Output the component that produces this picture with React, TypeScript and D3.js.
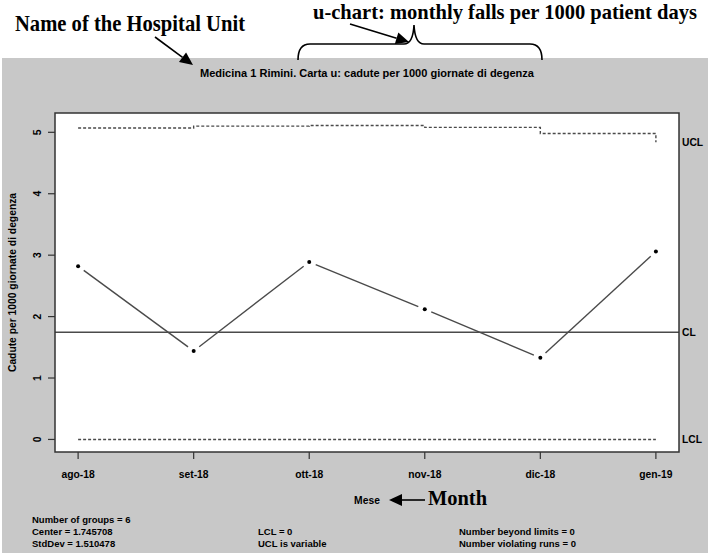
import React from "react";
import * as d3 from "d3";

const months = ["ago-18", "set-18", "ott-18", "nov-18", "dic-18", "gen-19"];
const rates = [2.82, 1.44, 2.89, 2.12, 1.33, 3.06];
const ucl = [5.07, 5.1, 5.11, 5.08, 4.98, 4.84];
const lcl = [0, 0, 0, 0, 0, 0];
const center = 1.745708;
const yTicks = [0, 1, 2, 3, 4, 5];
const statsLeft = ["Number of groups = 6", "Center = 1.745708", "StdDev = 1.510478"];
const statsMid = ["LCL = 0", "UCL is variable"];
const statsRight = ["Number beyond limits = 0", "Number violating runs = 0"];

const W = 708, H = 557;
const plot = { l: 55, r: 679, t: 113, b: 452 };
const SANS = "'Liberation Sans', Arial, sans-serif";
const SERIF = "'Liberation Serif', 'Times New Roman', serif";
const LINE = "#4a4a4a";

function Arrow({ x1, y1, x2, y2 }: { x1: number; y1: number; x2: number; y2: number }) {
  const a = Math.atan2(y2 - y1, x2 - x1);
  const L = 13, w = 6;
  const bx = x2 - L * Math.cos(a), by = y2 - L * Math.sin(a);
  const p1 = [bx + w * Math.sin(a), by - w * Math.cos(a)];
  const p2 = [bx - w * Math.sin(a), by + w * Math.cos(a)];
  return (
    <g>
      <line x1={x1} y1={y1} x2={bx} y2={by} stroke="#000" strokeWidth={1.6} />
      <polygon points={`${x2},${y2} ${p1[0]},${p1[1]} ${p2[0]},${p2[1]}`} fill="#000" />
    </g>
  );
}

export default function App() {
  const idx = months.map((_, i) => i + 1);
  const x = d3.scaleLinear().domain([0.8, 6.2]).range([plot.l, plot.r]);
  const allVals = [...rates, ...ucl, ...lcl];
  const ymin = d3.min(allVals)!, ymax = d3.max(allVals)!;
  const pad = (ymax - ymin) * 0.04;
  const y = d3.scaleLinear().domain([ymin - pad, ymax + pad]).range([plot.b, plot.t]);

  // step path that ends with vertical drop at last index (R type="s")
  const stepPath = (vals: number[]) => {
    let p = `M${x(idx[0])},${y(vals[0])}`;
    for (let i = 1; i < vals.length; i++) {
      p += `H${x(idx[i])}V${y(vals[i])}`;
    }
    return p;
  };

  const gap = 7;
  const segs = rates.slice(1).map((v, i) => {
    const x1 = x(idx[i]), y1 = y(rates[i]), x2 = x(idx[i + 1]), y2 = y(v);
    const len = Math.hypot(x2 - x1, y2 - y1);
    const ux = (x2 - x1) / len, uy = (y2 - y1) / len;
    return { x1: x1 + ux * gap, y1: y1 + uy * gap, x2: x2 - ux * gap, y2: y2 - uy * gap };
  });

  const fs = 10.3;
  return (
    <svg width={W} height={H} style={{ position: "absolute", left: 0, top: 0, background: "#fff" }}>
      <rect x={2} y={58} width={706} height={495} fill="#c8c8c8" />
      <rect x={plot.l} y={plot.t} width={plot.r - plot.l} height={plot.b - plot.t} fill="#fff" />

      {/* annotations */}
      <text x={15} y={31} fontFamily={SERIF} fontWeight="bold" fontSize={23} textLength={230} lengthAdjust="spacingAndGlyphs">Name of the Hospital Unit</text>
      <text x={313} y={19} fontFamily={SERIF} fontWeight="bold" fontSize={21} textLength={384} lengthAdjust="spacingAndGlyphs">u-chart: monthly falls per 1000 patient days</text>
      <Arrow x1={155} y1={37} x2={193} y2={65} />
      <Arrow x1={350} y1={24} x2={409} y2={42} />
      <path d="M298,60 Q298,44 310,44 L404,44 Q413,44 414,25 Q415,44 424,44 L530,44 Q542,44 542,60" fill="none" stroke="#000" strokeWidth={1.6} />

      {/* title */}
      <text x={(plot.l + plot.r) / 2} y={77} textAnchor="middle" fontFamily={SANS} fontWeight="bold" fontSize={10.5} textLength={334} lengthAdjust="spacingAndGlyphs">Medicina 1 Rimini. Carta u: cadute per 1000 giornate di degenza</text>

      {/* limits */}
      <path d={stepPath(ucl)} fill="none" stroke={LINE} strokeWidth={1.4} strokeDasharray="3,2" />
      <path d={stepPath(lcl)} fill="none" stroke={LINE} strokeWidth={1.4} strokeDasharray="3,2" />
      <line x1={plot.l} x2={plot.r} y1={y(center)} y2={y(center)} stroke={LINE} strokeWidth={1.5} />

      {/* data */}
      {segs.map((s, i) => (
        <line key={i} x1={s.x1} y1={s.y1} x2={s.x2} y2={s.y2} stroke={LINE} strokeWidth={1.4} />
      ))}
      {rates.map((v, i) => (
        <circle key={i} cx={x(idx[i])} cy={y(v)} r={2} fill="#000" />
      ))}

      <rect x={plot.l} y={plot.t} width={plot.r - plot.l} height={plot.b - plot.t} fill="none" stroke="#333" strokeWidth={1.5} />

      {/* y axis */}
      {yTicks.map((t) => (
        <g key={t}>
          <line x1={plot.l - 7} x2={plot.l} y1={y(t)} y2={y(t)} stroke="#333" strokeWidth={1.2} />
          <text transform={`translate(${41},${y(t)}) rotate(-90)`} textAnchor="middle" fontFamily={SANS} fontWeight="bold" fontSize={fs}>{t}</text>
        </g>
      ))}
      <text transform={`translate(${16},${(plot.t + plot.b) / 2}) rotate(-90)`} textAnchor="middle" fontFamily={SANS} fontWeight="bold" fontSize={10.3}>Cadute per 1000 giornate di degenza</text>

      {/* x axis */}
      {months.map((m, i) => (
        <g key={m}>
          <line x1={x(idx[i])} x2={x(idx[i])} y1={plot.b} y2={plot.b + 7} stroke="#333" strokeWidth={1.2} />
          <text x={x(idx[i])} y={478} textAnchor="middle" fontFamily={SANS} fontWeight="bold" fontSize={fs}>{m}</text>
        </g>
      ))}
      <text x={(plot.l + plot.r) / 2} y={504} textAnchor="middle" fontFamily={SANS} fontWeight="bold" fontSize={10.3}>Mese</text>
      <Arrow x1={425} y1={500} x2={389} y2={500} />
      <text x={428} y={505} fontFamily={SERIF} fontWeight="bold" fontSize={21} textLength={59} lengthAdjust="spacingAndGlyphs">Month</text>

      {/* limit labels */}
      <text x={682} y={y(ucl[ucl.length - 1]) + 4} fontFamily={SANS} fontWeight="bold" fontSize={fs}>UCL</text>
      <text x={682} y={y(center) + 4} fontFamily={SANS} fontWeight="bold" fontSize={fs}>CL</text>
      <text x={682} y={y(lcl[lcl.length - 1]) + 4} fontFamily={SANS} fontWeight="bold" fontSize={fs}>LCL</text>

      {/* stats */}
      {statsLeft.map((s, i) => (
        <text key={s} x={32} y={523 + i * 12} fontFamily={SANS} fontWeight="bold" fontSize={9.5}>{s}</text>
      ))}
      {statsMid.map((s, i) => (
        <text key={s} x={258} y={535 + i * 12} fontFamily={SANS} fontWeight="bold" fontSize={9.5}>{s}</text>
      ))}
      {statsRight.map((s, i) => (
        <text key={s} x={459} y={535 + i * 12} fontFamily={SANS} fontWeight="bold" fontSize={9.5}>{s}</text>
      ))}
    </svg>
  );
}
